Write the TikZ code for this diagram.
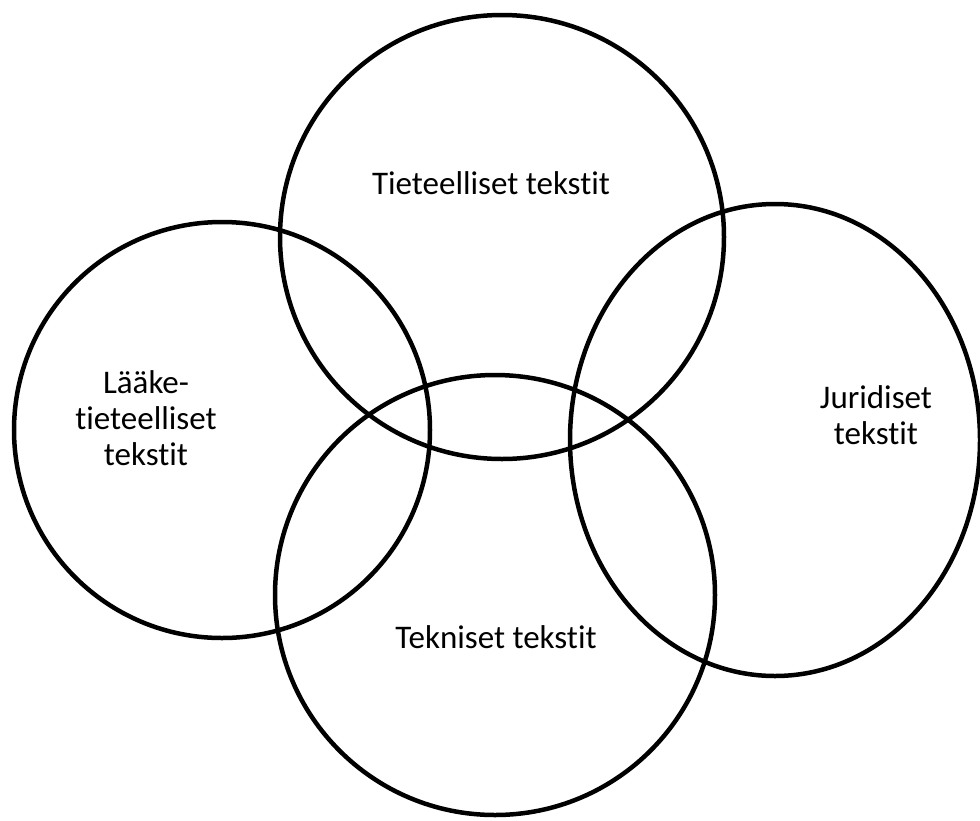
\documentclass[tikz,border=0pt]{standalone}
\usepackage{fontspec}
\setmainfont{Carlito}[Ligatures=NoCommon]
\usetikzlibrary{positioning}

\begin{document}
\begin{tikzpicture}[
					x=1pt, y=-1pt,
					ring/.style={draw=black, line width=4.5pt},
					lbl/.style={align=center, inner sep=0pt, font=\fontsize{33}{36}\selectfont}
					]
					\useasboundingbox (0,0) rectangle (980,820);
					% circles
					\draw[ring] (502,237) circle [radius=222];
					\draw[ring] (222,430) circle [radius=208];
					\draw[ring] (775,440) ellipse [x radius=205, y radius=236];
					\draw[ring] (495,595) circle [radius=220];
					% labels
					\node[lbl] (science) at (491,183) {Tieteelliset tekstit};
					\node[lbl] (medical) at (146,418) {Lääke-\\tieteelliset\\tekstit};
					\node[lbl] (legal) at (876,415) {Juridiset\\tekstit};
					\node[lbl] (technical) at (496,637) {Tekniset tekstit};
				\end{tikzpicture}
\end{document}
